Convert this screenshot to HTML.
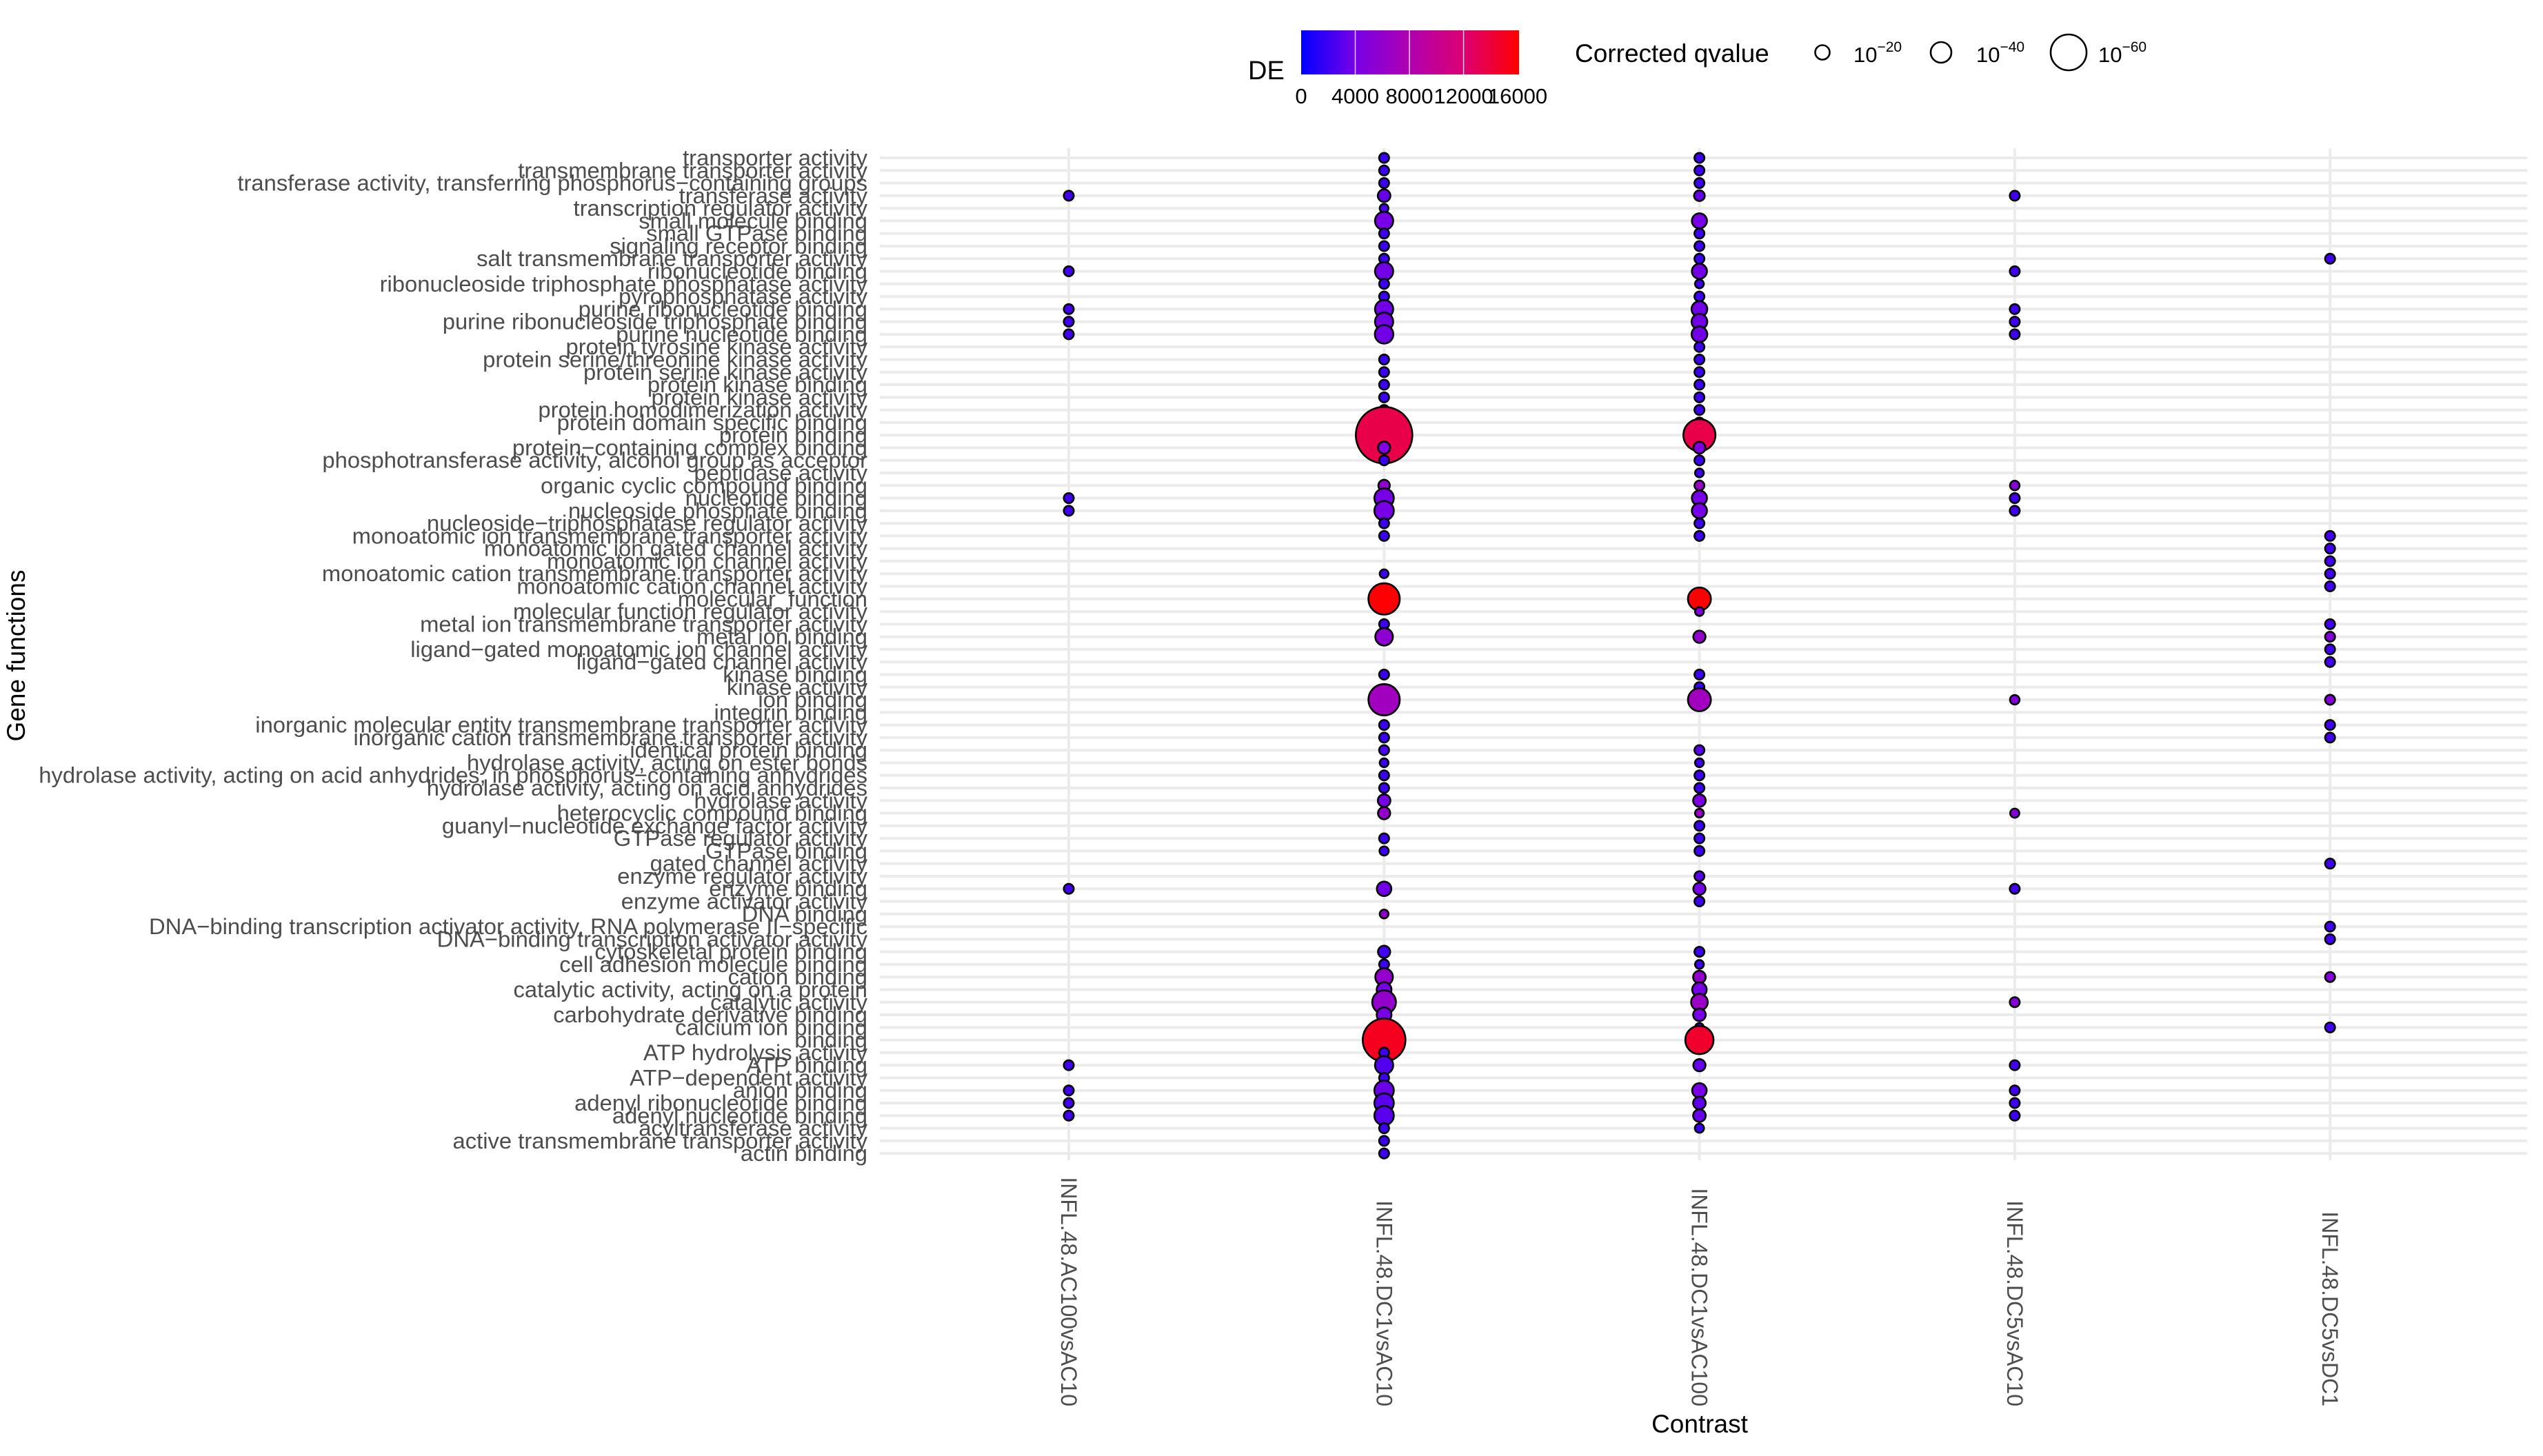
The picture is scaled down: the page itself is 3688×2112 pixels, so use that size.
<!DOCTYPE html>
<html><head><meta charset="utf-8"><style>
html,body{margin:0;padding:0;background:#fff;}
svg{display:block;font-family:"Liberation Sans",Arial,sans-serif;}
</style></head><body>
<svg id="chart" width="3688" height="2112" viewBox="0 0 3688 2112" xmlns="http://www.w3.org/2000/svg">
<defs>
<linearGradient id="deGrad" x1="0" x2="1" y1="0" y2="0">
<stop offset="0" stop-color="#0000ff"/><stop offset="0.25" stop-color="#7800e6"/><stop offset="0.5" stop-color="#b000b0"/><stop offset="0.75" stop-color="#dc0070"/><stop offset="1" stop-color="#ff0000"/>
</linearGradient>
</defs>
<g id="grid"></g>
<g id="ylabels"></g>
<g id="xlabels"></g>
<g id="dots"></g>
<text x="2465" y="2078" font-size="37" text-anchor="middle" fill="#000">Contrast</text>
<text transform="translate(36,951) rotate(-90)" font-size="37" text-anchor="middle" fill="#000">Gene functions</text>
<g>
<text x="1810" y="115" font-size="38" fill="#000">DE</text>
<rect x="1887" y="44" width="316" height="64" fill="url(#deGrad)"/>
<g id="cbticks"></g>
</g>
<g id="sizeLegend">
<text x="2284" y="90" font-size="37" fill="#000">Corrected qvalue</text>
</g>
</svg>
<script>
const terms = ["transporter activity","transmembrane transporter activity","transferase activity, transferring phosphorus\u2212containing groups","transferase activity","transcription regulator activity","small molecule binding","small GTPase binding","signaling receptor binding","salt transmembrane transporter activity","ribonucleotide binding","ribonucleoside triphosphate phosphatase activity","pyrophosphatase activity","purine ribonucleotide binding","purine ribonucleoside triphosphate binding","purine nucleotide binding","protein tyrosine kinase activity","protein serine/threonine kinase activity","protein serine kinase activity","protein kinase binding","protein kinase activity","protein homodimerization activity","protein domain specific binding","protein binding","protein\u2212containing complex binding","phosphotransferase activity, alcohol group as acceptor","peptidase activity","organic cyclic compound binding","nucleotide binding","nucleoside phosphate binding","nucleoside\u2212triphosphatase regulator activity","monoatomic ion transmembrane transporter activity","monoatomic ion gated channel activity","monoatomic ion channel activity","monoatomic cation transmembrane transporter activity","monoatomic cation channel activity","molecular_function","molecular function regulator activity","metal ion transmembrane transporter activity","metal ion binding","ligand\u2212gated monoatomic ion channel activity","ligand\u2212gated channel activity","kinase binding","kinase activity","ion binding","integrin binding","inorganic molecular entity transmembrane transporter activity","inorganic cation transmembrane transporter activity","identical protein binding","hydrolase activity, acting on ester bonds","hydrolase activity, acting on acid anhydrides, in phosphorus\u2212containing anhydrides","hydrolase activity, acting on acid anhydrides","hydrolase activity","heterocyclic compound binding","guanyl\u2212nucleotide exchange factor activity","GTPase regulator activity","GTPase binding","gated channel activity","enzyme regulator activity","enzyme binding","enzyme activator activity","DNA binding","DNA\u2212binding transcription activator activity, RNA polymerase II\u2212specific","DNA\u2212binding transcription activator activity","cytoskeletal protein binding","cell adhesion molecule binding","cation binding","catalytic activity, acting on a protein","catalytic activity","carbohydrate derivative binding","calcium ion binding","binding","ATP hydrolysis activity","ATP binding","ATP\u2212dependent activity","anion binding","adenyl ribonucleotide binding","adenyl nucleotide binding","acyltransferase activity","active transmembrane transporter activity","actin binding"];
const contrasts = ["INFL.48.AC100vsAC10","INFL.48.DC1vsAC10","INFL.48.DC1vsAC100","INFL.48.DC5vsAC10","INFL.48.DC5vsDC1"];
// row numbers (1-based, top to bottom), -log10(q), DE count
const c1Rows = [4,10,13,14,15,28,29,59,73,75,76,77];
const c1LogQ = [8,8,8,8,8,8,8,8,8,8,8,8];
const c1DE = [2200,2200,2200,2200,2200,2200,2200,2200,2200,2200,2200,2200];
const c2Rows = [1,2,3,4,5,6,7,8,9,10,11,12,13,14,15,17,18,19,20,21,23,24,25,27,28,29,30,31,34,36,38,39,42,44,46,47,48,49,50,51,52,53,55,56,59,61,64,65,66,67,68,69,70,71,72,73,74,75,76,77,78,79,80];
const c2LogQ = [8,8,8,15,5,32,8,8,8,32,8,8,32,32,33,8,8,8,8,8,150,14,8,12,36,36,8,8,5,54,8,30,8,54,8,8,8,5,8,8,15,14,8,6,20,5,14,8,30,21,44,21,8,90,8,32,8,36,36,36,8,8,8];
const c2DE = [2000,2000,2000,3500,2500,4000,2000,2000,2000,3800,2000,2000,3800,3800,3800,2000,2000,2000,2000,2000,13500,4500,2000,6000,4000,4000,2000,2000,2000,16000,2000,5500,2000,7000,2000,2000,2500,2000,2000,2000,4000,6000,2000,2000,3800,6000,2200,2000,6000,4000,6000,4000,2000,15000,2000,2800,2000,3600,3000,3000,2000,2000,2000];
const c3Rows = [1,2,3,4,6,7,8,9,10,11,12,13,14,15,16,17,18,19,20,21,22,23,24,25,26,27,28,29,30,31,36,37,39,42,43,44,48,49,50,51,52,53,54,55,56,58,59,60,64,65,66,67,68,69,70,71,73,75,76,77,78];
const c3LogQ = [8,8,8,10,22,8,8,8,22,5,8,24,24,24,8,8,8,8,8,8,8,55,13,8,5,8,22,22,8,8,43,5,14,8,8,43,8,5,8,8,15,5,8,8,8,8,14,8,8,5,15,20,27,15,5,50,14,20,15,15,6];
const c3DE = [2000,2000,2000,3500,4000,2000,2000,2000,3800,2000,2000,3800,3800,3800,2000,2000,2000,2000,2000,2000,2000,13500,4500,2000,2000,6500,4000,4000,2000,2000,16000,4500,6000,2000,2000,7000,3000,2000,2000,2000,4500,6500,2000,2000,2000,3000,4000,2000,2000,2000,6000,4000,6500,4000,2000,14500,3500,4000,3200,3500,2000];
const c4Rows = [4,10,13,14,15,27,28,29,44,53,59,68,73,75,76,77];
const c4LogQ = [8,8,8,8,8,7,8,8,7,6,8,8,8,8,8,8];
const c4DE = [2200,2200,2200,2200,2200,5000,2200,2200,5000,5000,2200,5000,2200,2200,2200,2200];
const c5Rows = [9,31,32,33,34,35,38,39,40,41,44,46,47,57,62,63,66,70];
const c5LogQ = [8,8,8,8,8,8,8,8,8,8,8,8,8,8,8,8,8,8];
const c5DE = [2200,2200,2200,2200,2200,2200,2200,5000,2200,2200,5000,2200,2200,2200,2200,2200,5000,2200];
const deTicks = [0,4000,8000,12000,16000];
const deTickLabels = ["0","4000","8000","12000","16000"];
const sizeBreaks = [20,40,60];
const sizeBreakLabels = ["20","40","60"];

const NS = "http://www.w3.org/2000/svg";
const X0 = 1550, XSTEP = 457.3, Y0 = 229, YSTEP = 18.28;
const PL = 1276, PR = 3665, PT = 215, PB = 1683;
const DEMAX = 16100;
function xScale(i){ return X0 + i*XSTEP; }
function yScale(row){ return Y0 + (row-1)*YSTEP; }
const rPts = [[0,5],[20,10.5],[40,15],[60,26],[150,41]];
function rScale(v){
  for(let i=1;i<rPts.length;i++){ if(v<=rPts[i][0]){ const a=rPts[i-1],b=rPts[i]; return a[1]+(b[1]-a[1])*(v-a[0])/(b[0]-a[0]); } }
  return rPts[rPts.length-1][1];
}
const cStops = [[0,[0,0,255]],[0.25,[120,0,230]],[0.5,[176,0,176]],[0.75,[220,0,112]],[1,[255,0,0]]];
function cScale(de){
  const t = Math.max(0,Math.min(1,de/DEMAX));
  for(let i=1;i<cStops.length;i++){ if(t<=cStops[i][0]){ const a=cStops[i-1],b=cStops[i]; const f=(t-a[0])/(b[0]-a[0]); const c=a[1].map((v,k)=>Math.round(v+(b[1][k]-v)*f)); return "rgb("+c.join(",")+")"; } }
  return "rgb(255,0,0)";
}
function deX(v){ return 1887 + 316*v/DEMAX; }
function mk(tag, attrs, parent){ const e=document.createElementNS(NS,tag); for(const k in attrs) e.setAttribute(k,attrs[k]); parent.appendChild(e); return e; }

const grid = document.getElementById('grid');
terms.forEach((t,i)=>{
  const l = mk('line',{x1:PL,x2:PR,y1:yScale(i+1),y2:yScale(i+1),stroke:'#ebebeb','stroke-width':4},grid);
  
  
});
contrasts.forEach((c,i)=>{
  const l = mk('line',{x1:xScale(i),x2:xScale(i),y1:PT,y2:PB,stroke:'#ebebeb','stroke-width':4},grid);
  
  
});
const yl = document.getElementById('ylabels');
terms.forEach((t,i)=>{
  const e = mk('text',{x:1258,y:yScale(i+1)+11,'font-size':32.8,'text-anchor':'end',fill:'#4d4d4d'},yl);
  e.textContent = t;
  
  
});
const xl = document.getElementById('xlabels');
contrasts.forEach((c,i)=>{
  const e = mk('text',{transform:'translate('+(xScale(i)-11)+',2040) rotate(90)','font-size':32,'text-anchor':'end',fill:'#4d4d4d'},xl);
  e.textContent = c;
  
  
});
const series = [[c1Rows,c1LogQ,c1DE],[c2Rows,c2LogQ,c2DE],[c3Rows,c3LogQ,c3DE],[c4Rows,c4LogQ,c4DE],[c5Rows,c5LogQ,c5DE]];
const dots = document.getElementById('dots');
series.forEach((s,ci)=>{
  s[0].forEach((row,j)=>{
    const d = mk('circle',{cx:xScale(ci),cy:yScale(row),r:rScale(s[1][j]),fill:cScale(s[2][j]),stroke:'#000','stroke-width':2.6},dots);
    
    
  });
});
const cbt = document.getElementById('cbticks');
deTicks.forEach((v,i)=>{
  if(i>0 && i<deTicks.length-1){
    const l = mk('line',{x1:deX(v),x2:deX(v),y1:44,y2:108,stroke:'#fff','stroke-width':1.5,'stroke-opacity':0.8},cbt);
    
    
  }
  const t = mk('text',{x:deX(v),y:150,'font-size':31,'text-anchor':'middle',fill:'#000'},cbt);
  t.textContent = deTickLabels[i];
  
  
});
const sl = document.getElementById('sizeLegend');
const slX = [2643,2815,3000], slT = [2688,2866,3043];
sizeBreaks.forEach((v,i)=>{
  const c = mk('circle',{cx:slX[i],cy:76,r:rScale(v),fill:'none',stroke:'#000','stroke-width':2.6},sl);
  
  
  const t = mk('text',{x:slT[i],y:90,'font-size':31,fill:'#000'},sl);
  t.textContent = '10';
  
  
  const sup = mk('tspan',{dy:-15,'font-size':21},t);
  sup.textContent = '\u2212' + sizeBreakLabels[i];
});
</script>
</body></html>
